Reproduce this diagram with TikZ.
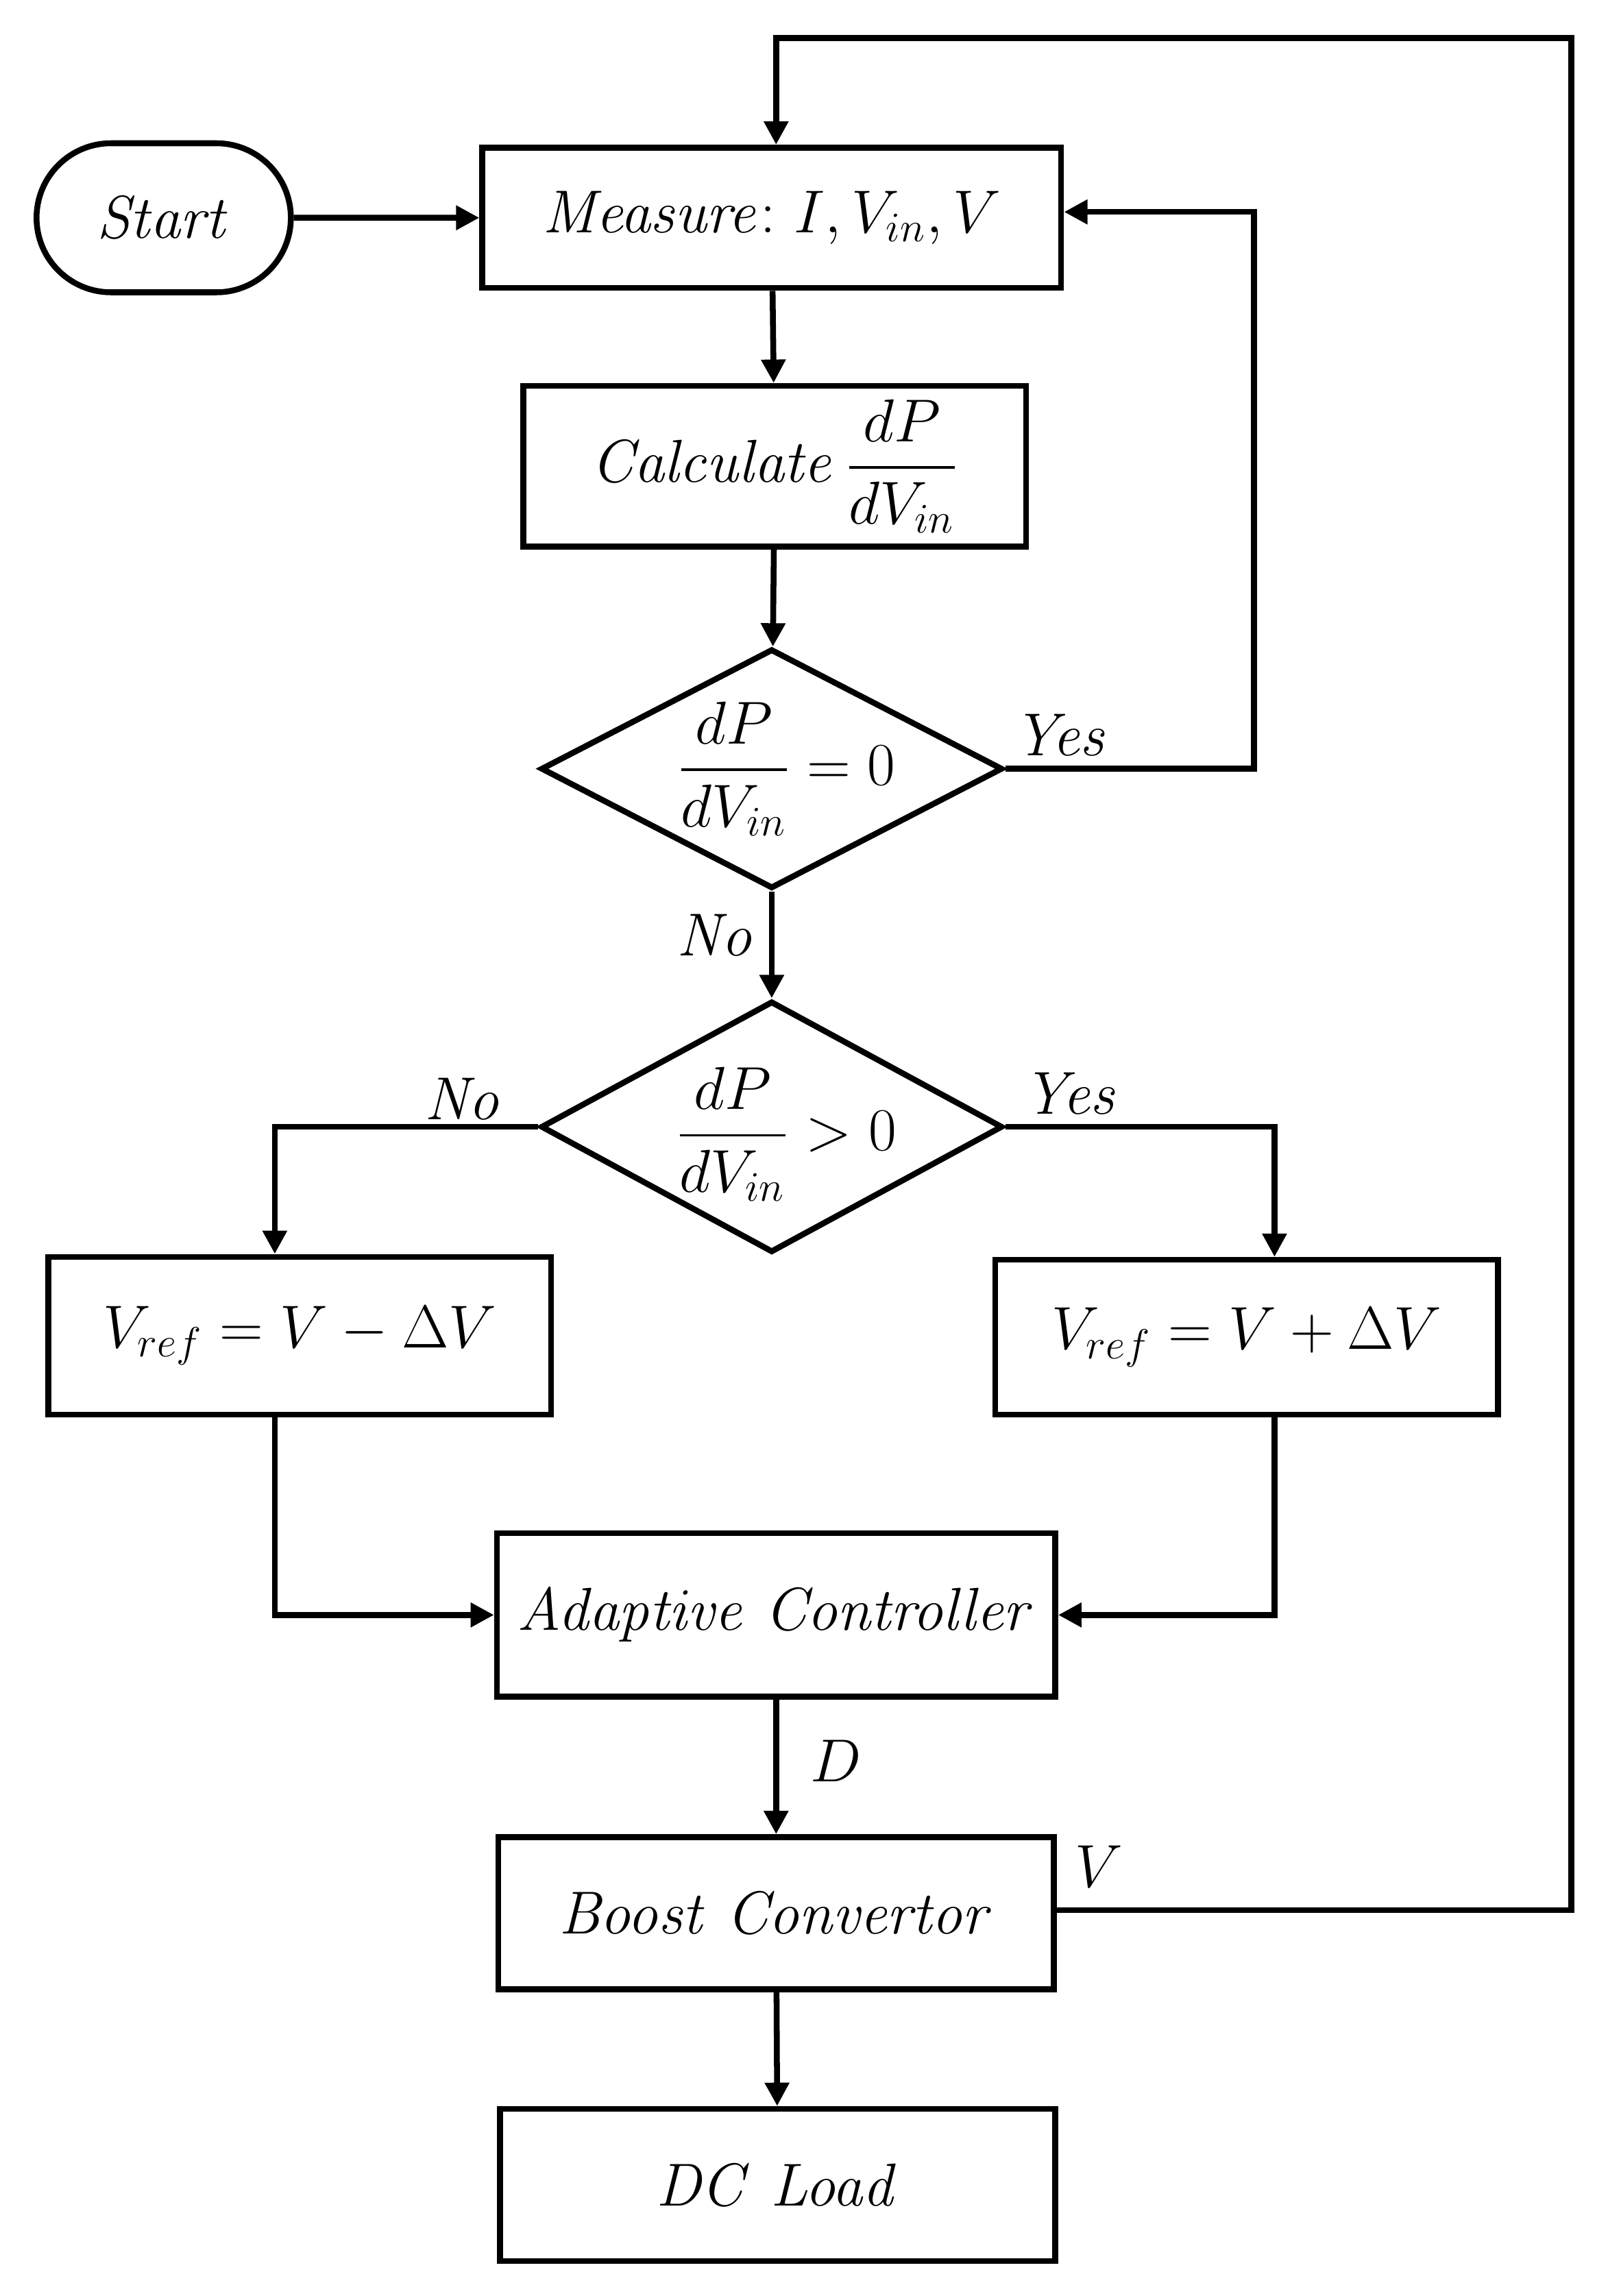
\documentclass[tikz,border=0pt]{standalone}
\usepackage{amsmath}
\usetikzlibrary{shapes.geometric,shapes.misc,arrows.meta}
\begin{document}
\begin{tikzpicture}[x=0.5pt,y=-0.5pt,
  every node/.style={font=\fontsize{21}{25}\selectfont},
  box/.style={draw,line width=2pt,inner sep=0pt},
  dia/.style={draw,line width=2pt,diamond,inner sep=0pt,minimum width=158pt,minimum height=82pt},
  lab/.style={inner sep=0pt},
  arr/.style={line width=2pt,-{Triangle[length=8pt,width=8pt]}}]
\useasboundingbox (0,0) rectangle (1100,1571);
\node[box,rounded rectangle,minimum width=87pt,minimum height=51pt] (start) at (112,149) {$\mathit{Start}$};
\node[box,minimum width=198pt,minimum height=48pt] (meas) at (528,149) {$\mathit{Measure}\mathrm{:}\ I,V_{in},V$};
\node[box,minimum width=172pt,minimum height=55pt] (calc) at (530,319) {$\mathit{Calculate}\,\dfrac{dP}{dV_{in}}$};
\node[dia] (d1) at (528,526) {};
\node[lab] at (538,526) {$\dfrac{dP}{dV_{in}}=0$};
\node[dia,minimum height=86pt] (d2) at (528,771) {};
\node[lab] at (538,776) {$\dfrac{dP}{dV_{in}}>0$};
\node[box,minimum width=172pt,minimum height=54pt] (lb) at (205,914) {$V_{ref}=V-\Delta V$\hspace{30pt}};
\node[box,minimum width=172pt,minimum height=53pt] (rb) at (853,915) {$V_{ref}=V+\Delta V$\hspace{30pt}};
\node[box,minimum width=191pt,minimum height=56pt] (ac) at (531,1105) {$\mathit{Adaptive\ Controller}$};
\node[box,minimum width=190pt,minimum height=52pt] (bc) at (531,1309) {$\mathit{Boost\ Convertor}$};
\node[box,minimum width=190pt,minimum height=52pt] (dc) at (532,1495) {$\mathit{DC\ Load}$};
\coordinate (c1) at (1075,1307);
\coordinate (c2) at (1075,26);
\coordinate (c3) at (531,26);
\coordinate (y1) at (858,526);
\coordinate (y2) at (858,145);
\coordinate (lx) at (188,0);
\coordinate (rx) at (872,0);
\draw[arr] (start) -- (meas);
\draw[arr] (meas) -- (calc);
\draw[arr] (calc) -- (d1);
\draw[arr] (d1) -- (d2);
\draw[arr] (d1.east) -- (y1) -- (y2) -- (meas.east |- y2);
\draw[arr] (d2.west) -| (lb.north -| lx);
\draw[arr] (d2.east) -| (rb.north -| rx);
\draw[arr] (lb.south -| lx) |- (ac.west);
\draw[arr] (rb.south -| rx) |- (ac.east);
\draw[arr] (ac) -- (bc);
\draw[arr] (bc) -- (dc);
\draw[arr] (bc.east |- c1) -- (c1) -- (c2) -- (c3) -- (c3 |- meas.north);
\node[lab] at (726,503) {$\mathit{Yes}$};
\node[lab] at (490,640) {$\mathit{No}$};
\node[lab] at (317,752) {$\mathit{No}$};
\node[lab] at (733,748) {$\mathit{Yes}$};
\node[lab] at (572,1205) {$D$};
\node[lab] at (752,1277) {$V$};
\end{tikzpicture}
\end{document}
